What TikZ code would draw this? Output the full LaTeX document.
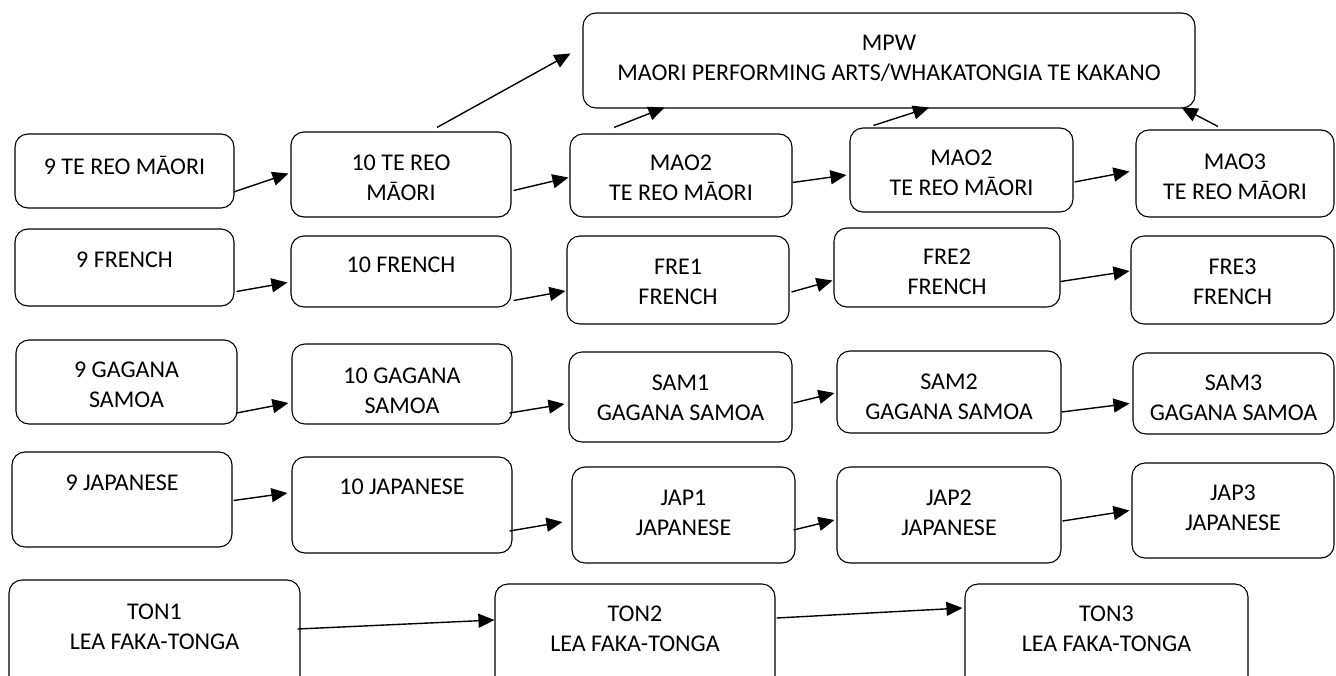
\documentclass[tikz,border=0pt]{standalone}
\usepackage{fontspec}
\setmainfont{Carlito}
\usetikzlibrary{
  arrows.meta,
  fit
}

\begin{document}
\begin{tikzpicture}[
  x=1pt, y=-1pt,
  subject/.style={draw, rounded corners=13pt, line width=1.1pt, inner sep=0pt},
  caption/.style={align=center, inner sep=0pt, font=\fontsize{24}{30}\selectfont},
  link/.style={line width=1.4pt, -{Triangle[length=16pt,width=14pt]}}
]
\useasboundingbox (0,0) rectangle (1336,675);
\fill[white] (0,0) rectangle (1336,675);
\clip (0,0) rectangle (1336,675);

% boxes: name / left / top / right / bottom / text centre
\node[subject, fit={(583,13) (1195,108)}] (mpw) {};
\node[caption] (mpw-t) at (mpw.center |- 0,58) {MPW\\MAORI PERFORMING ARTS/WHAKATONGIA TE KAKANO};

\foreach \n/\xa/\ya/\xb/\yb/\tc/\txt in {
  trm9/15/134/234/208/165/{9 TE REO MĀORI},
  trm10/291/132/511/217/178/{10 TE REO\\MĀORI},
  mao2a/570/134/792/217/178/{MAO2\\TE REO MĀORI},
  mao2b/850/128/1073/212/173/{MAO2\\TE REO MĀORI},
  mao3/1136/130/1334/217/177/{MAO3\\TE REO MĀORI},
  fre9/15/229/234/306/260/{9 FRENCH},
  fre10/291/236/511/307/265/{10 FRENCH},
  fre1/567/236/789/324/282/{FRE1\\FRENCH},
  fre2/834/228/1060/307/272/{FRE2\\FRENCH},
  fre3/1131/236/1334/324/282/{FRE3\\FRENCH},
  sam9/16/340/237/424/385/{9 GAGANA\\SAMOA},
  sam10/292/344/512/424/391/{10 GAGANA\\SAMOA},
  sam1/569/352/792/442/398/{SAM1\\GAGANA SAMOA},
  sam2/837/351/1061/433/397/{SAM2\\GAGANA SAMOA},
  sam3/1133/353/1334/434/398/{SAM3\\GAGANA SAMOA},
  jap9/12/452/232/547/483/{9 JAPANESE},
  jap10/292/457/512/553/487/{10 JAPANESE},
  jap1/572/467/795/563/513/{JAP1\\JAPANESE},
  jap2/837/467/1061/563/513/{JAP2\\JAPANESE},
  jap3/1132/463/1334/558/508/{JAP3\\JAPANESE},
  ton1/9/580/300/700/627/{TON1\\LEA FAKA-TONGA},
  ton2/495/584/775/700/629/{TON2\\LEA FAKA-TONGA},
  ton3/965/584/1248/700/629/{TON3\\LEA FAKA-TONGA}%
}{
  \node[subject, fit={(\xa,\ya) (\xb,\yb)}] (\n) {};
  \node[caption] (\n-t) at (\n.center |- 0,\tc) {\txt};
}

% links
\foreach \src/\ds/\dst/\dd in {
  trm9.east/{-1,21}/trm10.west/{-2,-1},
  trm10.east/{2,16}/mao2a.west/{-1,2},
  mao2a.east/{0,7}/mao2b.west/{-3,5},
  mao2b.east/{1,12}/mao3.west/{-6,-2},
  trm10.north/{36,-4}/mpw.west/{-12,-7},
  mao2a.north/{-67,-6}/mpw.south west/{82,-1},
  mao2b.north/{-88,-2}/mpw.south/{40,-1},
  mao3.north/{-17,-3}/mpw.south east/{-14,-1},
  fre9.east/{2,24}/fre10.west/{-3,11},
  fre10.east/{2,29}/fre1.west/{-1,11},
  fre1.east/{2,12}/fre2.west/{-1,13},
  fre2.east/{0,14}/fre3.west/{-1,-9},
  sam9.east/{-1,31}/sam10.west/{-3,19},
  sam10.east/{-3,29}/sam1.west/{-4,7},
  sam1.east/{1,6}/sam2.west/{-2,1},
  sam2.east/{0,20}/sam3.west/{-3,10},
  jap9.east/{1,1}/jap10.west/{-4,-12},
  jap10.east/{-3,26}/jap1.west/{-9,7},
  jap1.east/{-2,15}/jap2.west/{-2,5},
  jap2.east/{1,6}/jap3.west/{-2,0},
  ton1.east/{-3,-11}/ton2.west/{0,-22},
  ton2.east/{1,-24}/ton3.west/{-2,-34}%
}{
  \draw[link] ([shift={(\ds)}]\src) -- ([shift={(\dd)}]\dst);
}

\end{tikzpicture}
\end{document}
